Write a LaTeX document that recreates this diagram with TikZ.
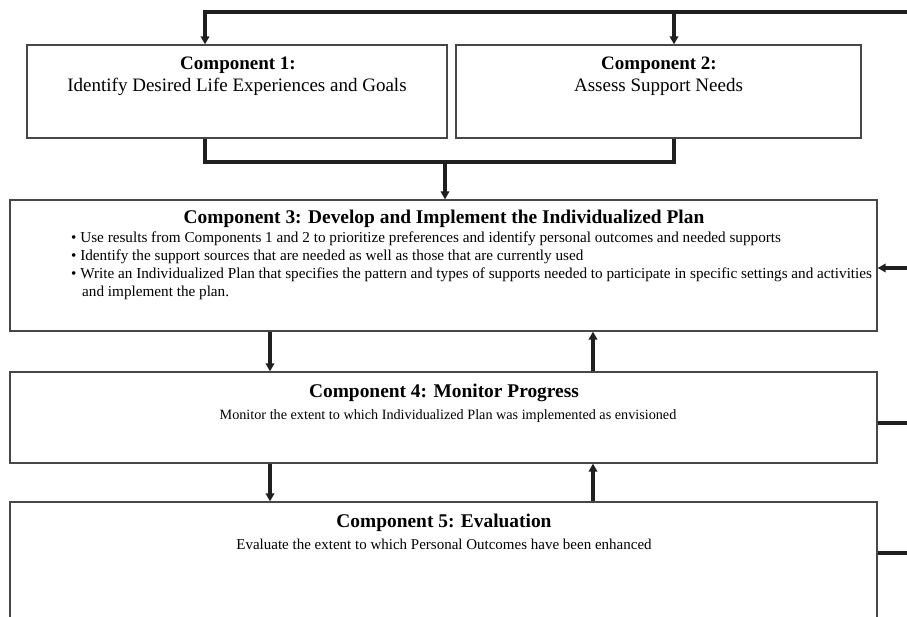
\documentclass[tikz,border=0pt]{standalone}
\usepackage{fontspec}
\setmainfont{Liberation Serif}
\usetikzlibrary{arrows.meta,calc}
\begin{document}
\begin{tikzpicture}[x=1pt,y=-1pt,
  box/.style={draw=black!72,line width=1.3pt,rectangle,inner sep=0pt,fill=none},
  conn/.style={draw=black!88,line width=3.2pt},
  arr/.style={conn,-{Triangle[length=8pt,width=8.5pt]}},
  bigb/.style={font=\fontsize{19}{22}\selectfont\bfseries,inner sep=0pt,anchor=base},
  bigt/.style={font=\fontsize{19}{22}\selectfont,inner sep=0pt,anchor=base},
  midb/.style={font=\fontsize{19.4}{22}\selectfont\bfseries,inner sep=0pt,anchor=base},
  bult/.style={font=\fontsize{15.2}{18}\selectfont,inner sep=0pt,anchor=base west},
  smt/.style={font=\fontsize{14.2}{17}\selectfont,inner sep=0pt,anchor=base}]
\useasboundingbox (0,0) rectangle (907,616);
\clip (0,0) rectangle (907,616);
\fill[white] (0,0) rectangle (907,616);
% boxes
\node[box,minimum width=420pt,minimum height=93pt] (b1) at (237,91.5) {};
\node[box,minimum width=405pt,minimum height=93pt] (b2) at (658.5,91.5) {};
\node[box,minimum width=867pt,minimum height=131pt] (b3) at (443.5,265.5) {};
\node[box,minimum width=867pt,minimum height=91pt] (b4) at (443.5,417.5) {};
\node[box,minimum width=867pt,minimum height=160pt] (b5) at (443.5,582) {};
% texts
\node[bigb] (t1a) at (238,69) {Component 1:};
\node[bigt] (t1b) at (237,91) {Identify Desired Life Experiences and Goals};
\node[bigb] (t2a) at (659,69) {Component 2:};
\node[bigt] (t2b) at (658.5,91) {Assess Support Needs};
\node[midb] (t3a) at (444,223) {Component 3: Develop and Implement the Individualized Plan};
\node[bult] (t3b) at (71,242) {\textbullet\ Use results from Components 1 and 2 to prioritize preferences and identify personal outcomes and needed supports};
\node[bult] (t3c) at (71,260) {\textbullet\ Identify the support sources that are needed as well as those that are currently used};
\node[bult] (t3d) at (71,278) {\textbullet\ Write an Individualized Plan that specifies the pattern and types of supports needed to participate in specific settings and activities};
\node[bult] (t3e) at (82,296) {and implement the plan.};
\node[midb] (t4a) at (444,397) {Component 4: Monitor Progress};
\node[smt] (t4b) at (448,419) {Monitor the extent to which Individualized Plan was implemented as envisioned};
\node[midb] (t5a) at (444,527) {Component 5: Evaluation};
\node[smt,font=\fontsize{15}{18}\selectfont] (t5b) at (444,549) {Evaluate the extent to which Personal Outcomes have been enhanced};
% connectors
\coordinate (tr) at (910,12);
\coordinate (tj) at (674,12);
\coordinate (j) at (445,162);
\draw[arr] (tr) -| ([xshift=-32pt]b1.north);
\draw[arr] (tj) -- ([xshift=15.5pt]b2.north);
\draw[conn] ([xshift=-32pt]b1.south) |- (j) -| ([xshift=15.5pt]b2.south);
\draw[arr] (j) -- (j |- b3.north);
\draw[arr] ([xshift=-173.5pt]b3.south) -- ([xshift=-173.5pt]b4.north);
\draw[arr] ([xshift=149.5pt]b4.north) -- ([xshift=149.5pt]b3.south);
\draw[arr] ([xshift=-173.5pt]b4.south) -- ([xshift=-173.5pt]b5.north);
\draw[arr] ([xshift=149.5pt]b5.north) -- ([xshift=149.5pt]b4.south);
\coordinate (r3) at (910,268);
\coordinate (r4) at (910,423);
\coordinate (r5) at (910,553);
\draw[arr] (r3) -- (r3 -| b3.east);
\draw[conn] (r4 -| b4.east) -- (r4);
\draw[conn] (r5 -| b5.east) -- (r5);
\end{tikzpicture}
\end{document}
